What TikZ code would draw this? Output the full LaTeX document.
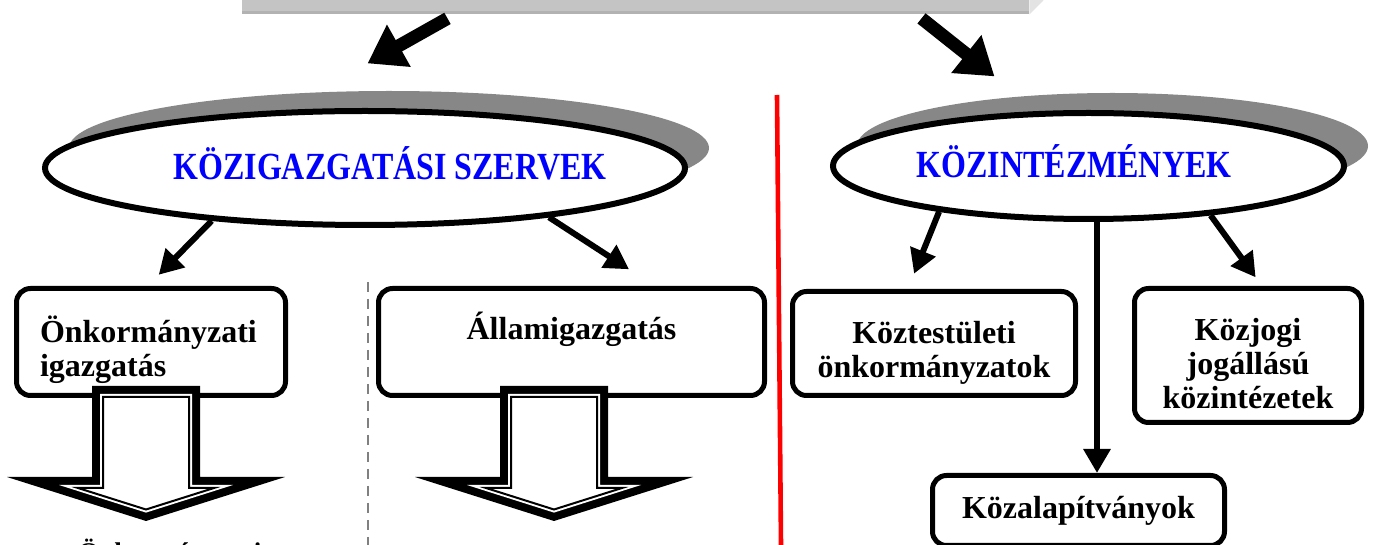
\documentclass[tikz,border=0pt]{standalone}
\usepackage{fontspec}
\setmainfont{Liberation Serif}
\usepackage{graphicx}
\usetikzlibrary{arrows.meta,positioning,shapes.geometric,shadows}

\begin{document}
\begin{tikzpicture}[x=0.5pt,y=-0.5pt,
  box/.style={draw, line width=2.5pt, rounded corners=7pt, fill=white, inner sep=0pt,
    font=\fontsize{16}{17}\selectfont\bfseries, align=center},
  oval/.style={ellipse, draw, line width=3pt, fill=white, inner sep=0pt,
    font=\fontsize{16}{16}\selectfont\bfseries, text=blue,
    drop shadow={shadow xshift=12pt, shadow yshift=10pt, fill=black!47, opacity=1}},
  arr/.style={line width=3pt, -{Triangle[length=12pt,width=13pt]}},
  bigarr/.style={line width=6.5pt, -{Triangle[length=18pt,width=23pt]}}]
  \useasboundingbox (0,0) rectangle (1378,545);
  \clip (0,0) rectangle (1378,545);

  % Top bar
  \node[fill=black!23, minimum width=393.5pt, minimum height=30pt, inner sep=0pt] (topbar) at (635.5,-16) {};
  \fill[black!30] (topbar.south west) rectangle ([yshift=1.5pt]topbar.south east);
  \fill[black!11] (topbar.south east) -- ++(14,-14) -- ++(0,-60) -- (topbar.north east) -- cycle;
  \draw[bigarr] ([xshift=-94pt,yshift=-2pt]topbar.south) -- ++(-80,45);
  \draw[bigarr] ([xshift=143pt,yshift=-2pt]topbar.south) -- ++(73,58);

  % Dividers
  \draw[black!50, line width=1.3pt, dash pattern=on 5pt off 3.5pt] (368,282) -- (368,545);
  \draw[red, line width=2.3pt] (777,95) -- (781,545);

  % Közigazgatási szervek
  \node[oval, minimum width=320pt, minimum height=57pt] (kozig) at (365,168)
    {\makebox[0pt]{\raisebox{-6pt}[0pt][0pt]{\scalebox{1}[1.2]{\hspace*{25pt}KÖZIGAZGATÁSI SZERVEK}}}};
  \node[box, minimum width=134.5pt, minimum height=53.5pt, align=left, text width=111pt,
    text height=21pt, text depth=20.5pt] (onk) at (151,342)
    {Önkormányzati\\igazgatás};
  \node[box, minimum width=193pt, minimum height=53.5pt, text height=12pt, text depth=14pt] (allam) at (571.5,342)
    {Államigazgatás};
  \draw[arr] (kozig.199) -- ++(-53,54);
  \draw[arr] (kozig.345) -- ++(80,52);

  % Block arrows
  \foreach \cx in {146,554} {
    \fill (\cx-54,386) -- (\cx+54,386) -- (\cx+54,477) -- (\cx+139,477) -- (\cx,521)
      -- (\cx-139,477) -- (\cx-54,477) -- cycle;
    \fill[white] (\cx-46,394) -- (\cx+46,394) -- (\cx+46,485) -- (\cx+87,485) -- (\cx,512.6)
      -- (\cx-87,485) -- (\cx-46,485) -- cycle;
    \draw[line width=1pt] (\cx-43,397) -- (\cx+43,397) -- (\cx+43,488) -- (\cx+68,488) -- (\cx,509.5)
      -- (\cx-68,488) -- (\cx-43,488) -- cycle;
  }
  \node[font=\fontsize{13.5}{14}\selectfont\bfseries, anchor=base west, inner sep=0pt] (onkbot) at (78,561)
    {Önkormányzati};

  % Közintézmények
  \node[oval, minimum width=255.5pt, minimum height=53pt] (kozint) at (1088.5,166)
    {\makebox[0pt]{\raisebox{-6pt}[0pt][0pt]{\scalebox{1}[1.2]{KÖZINTÉZMÉNYEK\hspace*{14.5pt}}}}};
  \node[box, minimum width=141.5pt, minimum height=52pt, text width=130pt,
    text height=21pt, text depth=20.5pt] (koztest) at (934,343.5)
    {Köztestületi\\önkormányzatok};
  \node[box, minimum width=113.5pt, minimum height=67pt, text width=105pt,
    text height=22.5pt, text depth=37.5pt] (kozjog) at (1248,355.5)
    {Közjogi\\jogállású\\közintézetek};
  \node[box, minimum width=146pt, minimum height=35pt] (kozalap) at (1078.5,510.5)
    {Közalapítványok};
  \coordinate (vx) at (1097,0);
  \draw[arr] (kozint.197) -- ++(-25,62);
  \draw[arr] (kozint.338) -- ++(45,62);
  \draw[arr] (vx |- kozint.south) -- (vx |- kozalap.north);
\end{tikzpicture}
\end{document}
